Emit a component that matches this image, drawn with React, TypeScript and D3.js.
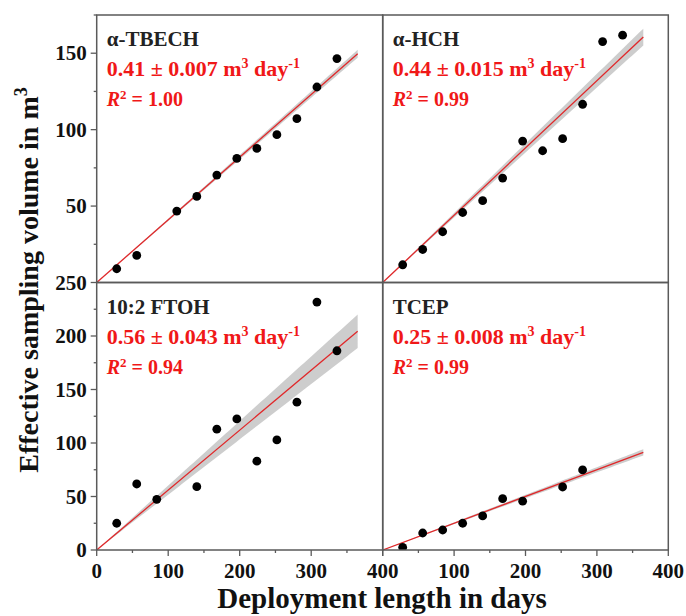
import React from "react";
import * as d3 from "d3";

// ---- data ----
const panelNames = ["α-TBECH", "α-HCH", "10:2 FTOH", "TCEP"];
const tbechDays = [28, 56, 112, 140, 168, 196, 224, 252, 280, 308, 336];
const tbechVol = [9, 17.7, 46.7, 56.3, 70.3, 81.2, 87.7, 96.7, 107.2, 127.9, 146.5];
const hchDays = [28, 56, 84, 112, 140, 168, 196, 224, 252, 280, 308, 336];
const hchVol = [11.6, 21.6, 33.2, 45.8, 53.5, 68.3, 92.5, 86.2, 94.1, 116.6, 157.6, 161.8];
const ftohDays = [28, 56, 84, 140, 168, 196, 224, 252, 280, 308, 336];
const ftohVol = [25, 61.7, 47.4, 59.2, 112.9, 122.5, 83, 102.9, 138.2, 231.7, 186.2];
const tcepDays = [28, 56, 84, 112, 140, 168, 196, 252, 280];
const tcepVol = [2.5, 15.9, 18.7, 25, 31.8, 48, 45.6, 58.9, 74.8];
const slopes = [0.41, 0.44, 0.56, 0.25];
const slopeErrs = [0.007, 0.015, 0.043, 0.008];
const slopeLabels = ["0.41", "0.44", "0.56", "0.25"];
const errLabels = ["0.007", "0.015", "0.043", "0.008"];
const r2Labels = ["1.00", "0.99", "0.94", "0.99"];
const xTicksLeft = [0, 100, 200, 300, 400];
const xTicksRight = [100, 200, 300, 400];
const yTicksTop = [50, 100, 150];
const yTicksBottom = [0, 50, 100, 150, 200, 250];
const fitEnd = 365;

const FONT = "'Liberation Serif', 'Times New Roman', serif";
const X0 = 96.7, XM = 382.7, X1 = 668.3;
const Y0 = 15, YM = 282.5, Y1 = 550;
const RED = "#f01818";
const FRAME = "#5a5a5a";

export default function App() {
  const dayData = [tbechDays, hchDays, ftohDays, tcepDays];
  const volData = [tbechVol, hchVol, ftohVol, tcepVol];
  const panels = panelNames.map((name, i) => {
    const col = i % 2, row = Math.floor(i / 2);
    const x = d3.scaleLinear().domain([0, 400]).range(col === 0 ? [X0, XM] : [XM, X1]);
    const yMax = row === 0 ? 175 : 250;
    const y = d3.scaleLinear().domain([0, yMax]).range(row === 0 ? [YM, Y0] : [Y1, YM]);
    return { name, i, col, row, x, y, yMax };
  });

  return (
    <svg width={686} height={616} style={{ position: "absolute", left: 0, top: 0, background: "#fff" }}
      fontFamily={FONT}>
      <defs>
        {panels.map((p) => (
          <clipPath id={`clip${p.i}`} key={p.i}>
            <rect x={p.x.range()[0]} y={p.y.range()[1]} width={p.x.range()[1] - p.x.range()[0]}
              height={p.y.range()[0] - p.y.range()[1]} />
          </clipPath>
        ))}
      </defs>
      {panels.map((p) => {
        const { x, y, i } = p;
        const days = dayData[i], vols = volData[i];
        const b = slopes[i], e = slopeErrs[i];
        const xs = d3.range(0, fitEnd + 1, 5);
        const band = d3.area<number>()
          .x((d) => x(d))
          .y0((d) => y((b - e) * d))
          .y1((d) => y((b + e) * d));
        const line = d3.line<number>().x((d) => x(d)).y((d) => y(b * d));
        const left = x.range()[0];
        const top = y.range()[1];
        return (
          <g key={i}>
            <g clipPath={`url(#clip${i})`}>
              <path d={band(xs) || ""} fill="#c4c4c4" opacity={0.85} />
              <path d={line([0, fitEnd]) || ""} stroke="#e0282a" strokeWidth={1.3} fill="none" />
              {days.map((d, k) => (
                <circle key={k} cx={x(d)} cy={y(vols[k])} r={4.4} fill="#000" />
              ))}
            </g>
            <text x={left + 10} y={top + 31} fontSize={21} fontWeight="bold" fill="#222">{p.name}</text>
            <text x={left + 10} y={top + 61} fontSize={22} fontWeight="bold" fill={RED}>
              {`${slopeLabels[i]} ± ${errLabels[i]} m`}
              <tspan dy={-8} fontSize={14}>3</tspan>
              <tspan dy={8}>{" day"}</tspan>
              <tspan dy={-8} fontSize={14}>-1</tspan>
            </text>
            <text x={left + 10} y={top + 91} fontSize={20} fontWeight="bold" fill={RED}>
              <tspan fontStyle="italic">R</tspan>
              <tspan dy={-7} fontSize={13}>2</tspan>
              <tspan dy={7}>{` = ${r2Labels[i]}`}</tspan>
            </text>
          </g>
        );
      })}
      {/* frames */}
      {panels.map((p) => (
        <rect key={`f${p.i}`} x={p.x.range()[0]} y={p.y.range()[1]} width={p.x.range()[1] - p.x.range()[0]}
          height={p.y.range()[0] - p.y.range()[1]} fill="none" stroke={FRAME} strokeWidth={1.5} />
      ))}
      {/* y axes */}
      {panels.filter((p) => p.col === 0).map((p) => {
        const ticks = d3.range(0, p.yMax + 0.1, 25).filter((t) => !(p.row === 0 && t === 0));
        const labels = p.row === 0 ? yTicksTop : yTicksBottom;
        return (
          <g key={`y${p.i}`}>
            {ticks.map((t) => (
              <line key={t} x1={X0} x2={X0 - (t % 50 === 0 ? 6 : 3)} y1={p.y(t)} y2={p.y(t)}
                stroke={FRAME} strokeWidth={1.3} />
            ))}
            {labels.map((t) => (
              <text key={`l${t}`} x={X0 - 10} y={p.y(t)} dy="0.34em" textAnchor="end" fontSize={21}
                fontWeight="bold" fill="#111">{t}</text>
            ))}
          </g>
        );
      })}
      {/* x axes */}
      {panels.filter((p) => p.row === 1).map((p) => {
        const ticks = d3.range(0, 401, 50);
        const labels = p.col === 0 ? xTicksLeft : xTicksRight;
        return (
          <g key={`x${p.i}`}>
            {ticks.map((t) => (
              <line key={t} x1={p.x(t)} x2={p.x(t)} y1={Y1} y2={Y1 + (t % 100 === 0 ? 6 : 3)}
                stroke={FRAME} strokeWidth={1.3} />
            ))}
            {labels.map((t) => (
              <text key={`l${t}`} x={p.x(t)} y={578} textAnchor="middle" fontSize={21}
                fontWeight="bold" fill="#111">{t}</text>
            ))}
          </g>
        );
      })}
      <text x={382} y={608} textAnchor="middle" fontSize={29} fontWeight="bold" fill="#111">
        Deployment length in days
      </text>
      <text transform="translate(38,280) rotate(-90)" textAnchor="middle" fontSize={28} fontWeight="bold" fill="#111">
        Effective sampling volume in m<tspan dy={-11} fontSize={18}>3</tspan>
      </text>
    </svg>
  );
}
